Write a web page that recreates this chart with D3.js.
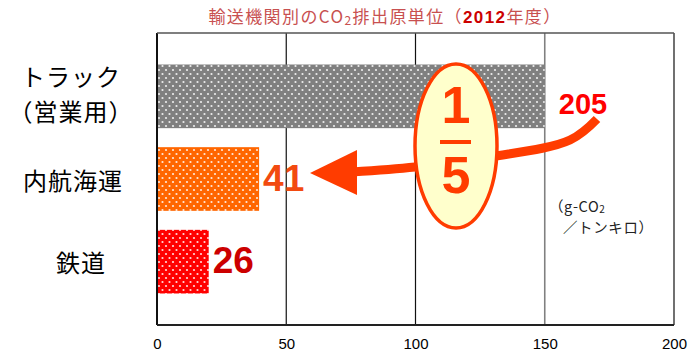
<!DOCTYPE html>
<html lang="ja">
<head>
<meta charset="UTF-8" />
<title>CO2 unit</title>
<script src="https://cdn.jsdelivr.net/npm/d3@7"></script>
<style>
  body { margin: 0; background: #fff; }
  svg { display: block; }
</style>
</head>
<body>
<svg id="svg"></svg>
<script>
// data
const categories = [["トラック", "（営業用）"], ["内航海運"], ["鉄道"]];
const valueLabels = ["205", "41", "26"];
const barValues = [205, 39.5, 20]; // lengths as drawn in the picture
const barColors = ["#808080", "#ff6600", "#ff0000"];
const labelColors = ["#ff0000", "#f24a10", "#cc0000"];
const xTicks = [0, 50, 100, 150, 200];
const xClip = 150; // truck bar is cut at the 150 line

const width = 688, height = 353;
const svg = d3.select("#svg").attr("width", width).attr("height", height);
const jp = "'Noto Sans CJK JP', sans-serif";
const num = "'Liberation Sans', Arial, sans-serif";

const x = d3.scaleLinear().domain([0, 200]).range([157, 674]);
const y = d3.scaleBand().domain(d3.range(categories.length)).range([55, 303]).paddingInner(0.23).paddingOuter(0.115);
const plotTop = 33, plotBottom = 325;

// dotted patterns
const defs = svg.append("defs");
barColors.forEach((c, i) => {
  const p = defs.append("pattern").attr("id", "dots" + i)
    .attr("patternUnits", "userSpaceOnUse").attr("width", 7).attr("height", 8);
  p.append("rect").attr("width", 7).attr("height", 8).attr("fill", c);
  [[1.5, 2], [5, 6]].forEach(d => {
    p.append("circle").attr("cx", d[0]).attr("cy", d[1]).attr("r", 1.1)
      .attr("fill", "#fff").attr("fill-opacity", 0.85);
  });
});

// title
const title = svg.append("text").attr("x", 385).attr("y", 23)
  .attr("text-anchor", "middle").style("font-family", jp).style("font-size", "17px")
  .style("letter-spacing", "1.4px").attr("fill", "#c85050");
title.append("tspan").text("輸送機関別のCO");
title.append("tspan").text("2").attr("font-size", "12px").attr("dy", 2);
title.append("tspan").text("排出原単位（").attr("dy", -2);
title.append("tspan").text("2012").attr("fill", "#cc0000").style("font-family", num).style("font-weight", "bold");
title.append("tspan").text("年度）");

// grid
svg.append("g").selectAll("line").data(xTicks).join("line")
  .attr("x1", d => x(d)).attr("x2", d => x(d))
  .attr("y1", plotTop).attr("y2", plotBottom)
  .attr("stroke", d => d === 150 ? "#808080" : "#111")
  .attr("stroke-width", d => d === 0 ? 2 : (d === 150 ? 1.6 : 1.2));
svg.append("line").attr("x1", x(0)).attr("x2", x(200)).attr("y1", plotTop).attr("y2", plotTop)
  .attr("stroke", "#555").attr("stroke-width", 1.6);
svg.append("line").attr("x1", x(0)).attr("x2", x(200)).attr("y1", plotBottom).attr("y2", plotBottom)
  .attr("stroke", "#222").attr("stroke-width", 2);

// bars
svg.append("g").selectAll("rect").data(barValues).join("rect")
  .attr("x", x(0) + 1)
  .attr("y", (d, i) => y(i))
  .attr("width", d => x(Math.min(d, xClip)) - x(0) - 1)
  .attr("height", y.bandwidth())
  .attr("fill", (d, i) => `url(#dots${i})`);

// x axis labels
const axis = svg.append("g").attr("transform", `translate(0,${plotBottom})`)
  .call(d3.axisBottom(x).tickValues(xTicks).tickSize(0).tickPadding(13));
axis.select(".domain").remove();
axis.selectAll("text").style("font-family", num).style("font-size", "15px").attr("fill", "#000");

// category labels (one text per line)
const catX = [71, 73, 81];
const lineGap = 35;
categories.forEach((lines, i) => {
  const cy = y(i) + y.bandwidth() / 2 - (lines.length > 1 ? 3 : 0);
  lines.forEach((s, j) => {
    svg.append("text").text(s)
      .attr("x", catX[i])
      .attr("y", cy + (j - (lines.length - 1) / 2) * lineGap)
      .attr("text-anchor", "middle").attr("dominant-baseline", "central")
      .style("font-family", jp).style("font-size", "24px")
      .style("letter-spacing", "1px").attr("fill", "#000");
  });
});

// value labels
svg.append("g").selectAll("text").data(barValues).join("text")
  .text((d, i) => valueLabels[i])
  .attr("x", (d, i) => i === 0 ? x(xClip) + 14 : x(d) + 4)
  .attr("y", (d, i) => y(i) + y.bandwidth() / 2 + (i === 0 ? 8 : -1))
  .attr("dominant-baseline", "central")
  .style("font-family", num).style("font-weight", "bold")
  .style("font-size", (d, i) => i === 0 ? "29px" : "37px")
  .attr("fill", (d, i) => labelColors[i]);

// unit
const unit1 = svg.append("text").attr("x", 549).attr("y", 212)
  .style("font-family", jp).style("font-size", "14.5px").style("letter-spacing", "0.6px").attr("fill", "#222");
unit1.append("tspan").text("（g-CO");
unit1.append("tspan").text("2").attr("font-size", "10px").attr("dy", 1);
svg.append("text").text("／トンキロ）").attr("x", 563).attr("y", 233)
  .style("font-family", jp).style("font-size", "14.5px").style("letter-spacing", "0.6px").attr("fill", "#222");

// arrow 205 -> 41
const arrowColor = "#ff3c00";
const tipY = y(1) + y.bandwidth() / 2 - 6;
svg.append("path")
  .attr("d", d3.line().curve(d3.curveCatmullRom)([[597, 119], [570, 140], [490, 157], [415, 167], [352, tipY - 1]]))
  .attr("fill", "none").attr("stroke", arrowColor).attr("stroke-width", 9);
svg.append("path")
  .attr("d", `M310,${tipY} L357,${tipY - 23} L357,${tipY + 22} Z`)
  .attr("fill", arrowColor);

// 1/5 badge
svg.append("ellipse").attr("cx", 456).attr("cy", 146).attr("rx", 41).attr("ry", 82)
  .attr("fill", "#ffffcc").attr("stroke", arrowColor).attr("stroke-width", 3.5);
svg.append("text").text("1").attr("x", 456).attr("y", 123).attr("text-anchor", "middle")
  .style("font-family", num).style("font-weight", "bold").style("font-size", "52px").attr("fill", arrowColor);
svg.append("line").attr("x1", 440).attr("x2", 471).attr("y1", 142).attr("y2", 142)
  .attr("stroke", arrowColor).attr("stroke-width", 4);
svg.append("text").text("5").attr("x", 456).attr("y", 193).attr("text-anchor", "middle")
  .style("font-family", num).style("font-weight", "bold").style("font-size", "52px").attr("fill", arrowColor);
</script>
</body>
</html>
